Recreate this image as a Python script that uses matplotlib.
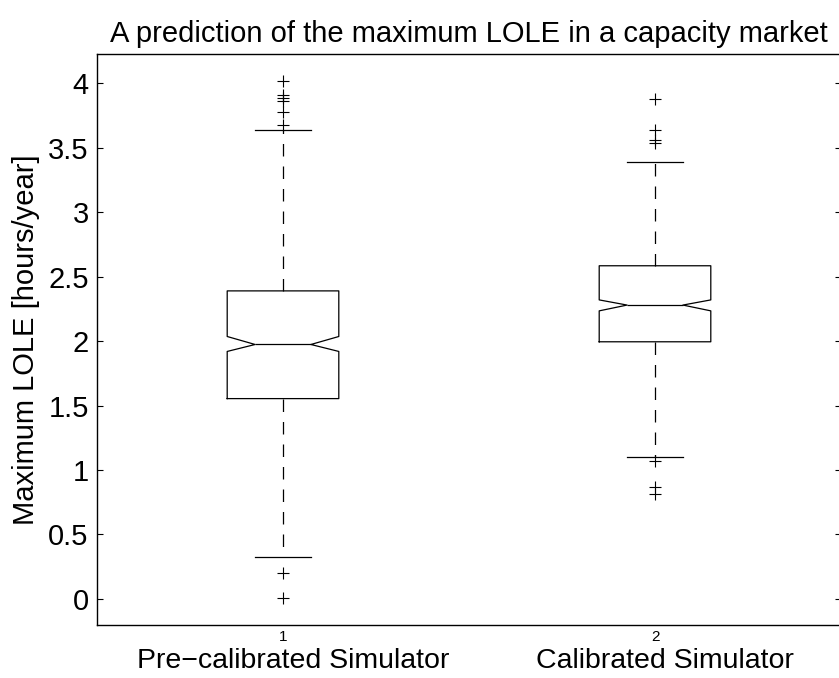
import matplotlib
matplotlib.use('Agg')
import matplotlib.pyplot as plt
from matplotlib.ticker import FuncFormatter

plt.rcParams['font.family'] = ['Liberation Sans', 'DejaVu Sans']

# box statistics
groups = ['Pre\u2212calibrated Simulator', 'Calibrated Simulator']
medians = [1.974, 2.28]
q1s = [1.554, 1.995]
q3s = [2.39, 2.585]
ci_low = [1.92, 2.235]
ci_high = [2.036, 2.32]
whisk_low = [0.321, 1.103]
whisk_high = [3.636, 3.39]
fliers = [
    [4.02, 3.91, 3.89, 3.86, 3.78, 3.68, 0.204, 0.005],
    [3.88, 3.64, 3.56, 3.54, 1.072, 0.865, 0.813],
]

stats = []
for i in range(len(groups)):
    stats.append(dict(med=medians[i], q1=q1s[i], q3=q3s[i],
                      cilo=ci_low[i], cihi=ci_high[i],
                      whislo=whisk_low[i], whishi=whisk_high[i],
                      fliers=fliers[i]))

fig = plt.figure(figsize=(8.39, 6.78), dpi=100)
ax = fig.add_axes([97 / 839, 1 - 624.6 / 678, 744 / 839, 570.4 / 678])

lw = 0.9
ax.bxp(stats, positions=[1, 2], widths=0.3, shownotches=True,
       boxprops=dict(color='black', linewidth=lw),
       medianprops=dict(color='black', linewidth=lw),
       whiskerprops=dict(color='black', linewidth=lw, linestyle=(0, (10, 8))),
       capprops=dict(color='black', linewidth=lw),
       flierprops=dict(marker='+', markersize=9, markeredgecolor='black',
                       markeredgewidth=0.8, linestyle='none'))

ax.set_xlim(0.5, 2.5)
ax.set_ylim(-0.2, 4.227)
ax.set_yticks([0, 0.5, 1, 1.5, 2, 2.5, 3, 3.5, 4])
ax.yaxis.set_major_formatter(FuncFormatter(lambda v, p: '%g' % v))
ax.set_xticks([1, 2])
ax.set_xticklabels(['1', '2'], fontsize=11)
ax.tick_params(axis='x', length=0, pad=4)
ax.tick_params(axis='y', direction='in', length=4, width=0.8,
               right=True, labelsize=21, pad=6)
for s in ax.spines.values():
    s.set_linewidth(1.0)

# group names sit a little right of the numeric ticks, as in the original
for i, g in enumerate(groups):
    ax.text(i + 1.027, -0.063, g, transform=ax.get_xaxis_transform(),
            ha='center', va='center', fontsize=20.5)

ax.set_ylabel('Maximum LOLE [hours/year]', fontsize=21, labelpad=6)
ax.set_title('A prediction of the maximum LOLE in a capacity market',
             fontsize=21, pad=9)

fig.savefig('out.png', dpi=100)
